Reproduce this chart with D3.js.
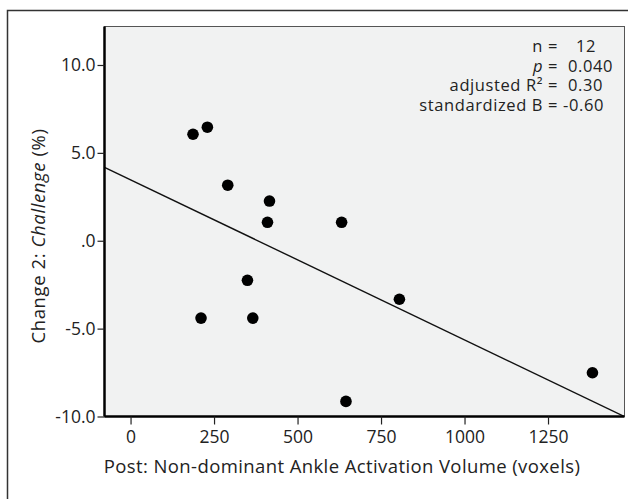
<!DOCTYPE html>
<html>
<head>
<meta charset="utf-8">
<script src="https://cdn.jsdelivr.net/npm/d3@7"></script>
<style>
  html, body { margin: 0; padding: 0; background: #fff; }
  svg { display: block; font-family: "Open Sans", Lato, sans-serif; }
</style>
</head>
<body>
<svg width="628" height="499"></svg>
<script>
// values
const voxels = [187, 230, 291, 416, 410, 632, 350, 211, 366, 805, 645, 1383];
const change = [6.06, 6.46, 3.16, 2.26, 1.05, 1.05, -2.25, -4.40, -4.40, -3.33, -9.14, -7.51];
const xTicks = [0, 250, 500, 750, 1000, 1250];
const yTicks = [10, 5, 0, -5, -10];
const yTickLabels = ['10.0', '5.0', '.0', '-5.0', '-10.0'];
const fitIntercept = 3.47;
const fitSlope = -0.00911;
const statLabels = ['n =', 'p =', 'adjusted R² =', 'standardized B ='];
const statValues = ['12', '0.040', '0.30', '-0.60'];
const statValueX = [576, 568, 568, 563];

const svg = d3.select('svg');
const plot = { left: 104.5, right: 624.5, top: 26.5, bottom: 416.5 };

const x = d3.scaleLinear().domain([-78, 1479]).range([plot.left, plot.right]);
const y = d3.scaleLinear().domain([-10, 12.19]).range([plot.bottom, plot.top]);

// outer frame (runs off the right and bottom of the picture)
svg.append('path')
  .attr('d', 'M7.5,520 V10.5 H640')
  .attr('fill', 'none')
  .attr('stroke', '#333')
  .attr('stroke-width', 1.5);

svg.append('rect')
  .attr('x', plot.left).attr('y', plot.top)
  .attr('width', plot.right - plot.left).attr('height', plot.bottom - plot.top)
  .attr('fill', '#f1f2f2')
  .attr('stroke', '#555')
  .attr('stroke-width', 1);

svg.append('clipPath').attr('id', 'clip')
  .append('rect')
  .attr('x', plot.left).attr('y', plot.top)
  .attr('width', plot.right - plot.left).attr('height', plot.bottom - plot.top);

// fit line
svg.append('line')
  .attr('clip-path', 'url(#clip)')
  .attr('x1', x(-78)).attr('y1', y(fitIntercept + fitSlope * -78))
  .attr('x2', x(1479)).attr('y2', y(fitIntercept + fitSlope * 1479))
  .attr('stroke', '#111')
  .attr('stroke-width', 1.4);

svg.append('g')
  .selectAll('circle')
  .data(voxels)
  .enter()
  .append('circle')
  .attr('cx', d => x(d))
  .attr('cy', (d, i) => y(change[i]))
  .attr('r', 5.8)
  .attr('fill', '#000');

// axes
const yAxis = svg.append('g')
  .attr('transform', `translate(${plot.left},0)`)
  .call(d3.axisLeft(y).tickValues(yTicks).tickSize(7).tickPadding(2)
    .tickFormat((d, i) => yTickLabels[i]));
const xAxis = svg.append('g')
  .attr('transform', `translate(0,${plot.bottom})`)
  .call(d3.axisBottom(x).tickValues(xTicks).tickSize(8).tickPadding(6)
    .tickFormat(d3.format('d')));

[xAxis, yAxis].forEach(g => {
  g.attr('font-family', '"Open Sans", sans-serif').attr('font-size', 17.5);
  g.select('.domain').attr('stroke', '#000').attr('stroke-width', 2.5);
  g.selectAll('.tick line').attr('stroke', '#222').attr('stroke-width', 1.2);
  g.selectAll('.tick text').attr('fill', '#222');
});
yAxis.select('.domain').attr('d', `M0,${plot.bottom}V${plot.top}`);
xAxis.select('.domain').attr('d', `M${plot.left},0H${plot.right}`);

// titles
svg.append('text')
  .attr('x', 342)
  .attr('y', 473)
  .attr('text-anchor', 'middle')
  .attr('fill', '#222')
  .attr('letter-spacing', 0.4)
  .style('font-size', '18.5px')
  .text('Post: Non-dominant Ankle Activation Volume (voxels)');

const yTitle = svg.append('text')
  .attr('transform', `translate(45,236) rotate(-90)`)
  .attr('text-anchor', 'middle')
  .attr('fill', '#222')
  .attr('letter-spacing', 0.6)
  .style('font-size', '18.5px');
yTitle.append('tspan').text('Change 2: ');
yTitle.append('tspan').attr('font-style', 'italic').text('Challenge');
yTitle.append('tspan').text(' (%)');

// stats box
const stats = svg.append('g').attr('fill', '#222')
  .attr('letter-spacing', 0.6)
  .style('font-size', '16.5px');
statLabels.forEach((label, i) => {
  const t = stats.append('text')
    .attr('x', 558).attr('y', 52 + i * 19.5)
    .attr('text-anchor', 'end');
  if (label === 'p =') {
    t.append('tspan').attr('font-style', 'italic').text('p');
    t.append('tspan').text(' =');
  } else {
    t.text(label);
  }
  stats.append('text')
    .attr('x', statValueX[i])
    .attr('y', 52 + i * 19.5)
    .text(statValues[i]);
});
</script>
</body>
</html>
